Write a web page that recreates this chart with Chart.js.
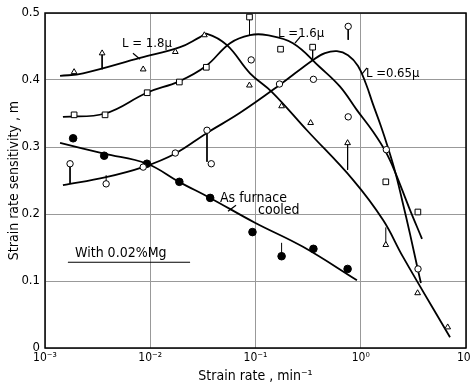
<!DOCTYPE html>
<html>
<head>
<meta charset="utf-8">
<script src="https://cdn.jsdelivr.net/npm/chart.js@4"></script>
<style>
  html, body { margin: 0; padding: 0; background: #fff; }
</style>
</head>
<body>
<canvas id="my-chart" width="471" height="385"></canvas>
<script>
'use strict';

// measured points (strain rate in min^-1, m)
let triX = [0.00189, 0.00349, 0.00857, 0.0173, 0.0327, 0.0875, 0.177, 0.334, 0.75, 1.73, 3.47, 6.7];
let triY = [0.412, 0.440, 0.416, 0.442, 0.467, 0.392, 0.361, 0.336, 0.306, 0.154, 0.082, 0.031];

let sqX = [0.00189, 0.00372, 0.00935, 0.0189, 0.0341, 0.0877, 0.173, 0.349, 1.73, 3.49];
let sqY = [0.348, 0.348, 0.381, 0.397, 0.419, 0.494, 0.446, 0.449, 0.248, 0.203];

let openX = [0.00173, 0.00381, 0.00857, 0.0173, 0.0346, 0.038, 0.091, 0.169, 0.355, 0.76, 0.76, 1.75, 3.5];
let openY = [0.275, 0.245, 0.270, 0.291, 0.325, 0.275, 0.430, 0.394, 0.401, 0.480, 0.345, 0.296, 0.118];

let fillX = [0.00185, 0.00365, 0.0093, 0.0189, 0.0371, 0.0936, 0.177, 0.355, 0.75];
let fillY = [0.313, 0.287, 0.275, 0.248, 0.224, 0.173, 0.137, 0.148, 0.118];

// drawn curves
let curve18X = [0.00139, 0.0023, 0.0080, 0.0192, 0.0297, 0.0346, 0.0536, 0.0887, 0.1435, 0.308, 0.844, 1.63, 2.52, 7.05];
let curve18Y = [0.406, 0.410, 0.433, 0.449, 0.464, 0.469, 0.452, 0.410, 0.382, 0.325, 0.251, 0.191, 0.136, 0.016];

let curve16X = [0.00148, 0.00372, 0.0093, 0.01875, 0.0339, 0.0573, 0.0887, 0.1286, 0.227, 0.410, 0.636, 0.920, 1.306, 1.738, 2.115, 2.87, 3.82];
let curve16Y = [0.345, 0.350, 0.381, 0.398, 0.421, 0.455, 0.467, 0.467, 0.455, 0.419, 0.390, 0.355, 0.323, 0.292, 0.263, 0.210, 0.163];

let curve065X = [0.00148, 0.0038, 0.00853, 0.01718, 0.0346, 0.0713, 0.171, 0.352, 0.457, 0.594, 0.757, 0.942, 1.122, 1.306, 1.556, 1.815, 2.115, 2.47, 2.94, 3.50, 3.73];
let curve065Y = [0.243, 0.255, 0.270, 0.290, 0.321, 0.351, 0.393, 0.430, 0.440, 0.443, 0.437, 0.421, 0.394, 0.364, 0.331, 0.299, 0.264, 0.221, 0.170, 0.116, 0.097];

let cooledX = [0.00139, 0.00364, 0.0093, 0.01875, 0.037, 0.0988, 0.2825, 0.920];
let cooledY = [0.306, 0.290, 0.275, 0.248, 0.224, 0.187, 0.151, 0.101];

// scatter ticks joining a point to its curve
let barX = [0.00349, 0.00173, 0.00381, 0.0346, 0.0877, 0.349, 0.75, 0.76, 1.73, 0.177];
let barFrom = [0.440, 0.275, 0.245, 0.325, 0.494, 0.449, 0.306, 0.480, 0.154, 0.137];
let barTo = [0.416, 0.245, 0.258, 0.278, 0.467, 0.432, 0.266, 0.460, 0.180, 0.157];

let xTickValues = [0.001, 0.01, 0.1, 1, 10];
let xTickLabels = ['10⁻³', '10⁻²', '10⁻¹', '10⁰', '10¹'];
let yTickValues = [0, 0.1, 0.2, 0.3, 0.4, 0.5];
let yTickLabels = ['0', '0.1', '0.2', '0.3', '0.4', '0.5'];

const FONT = '"DejaVu Sans Condensed", "Liberation Sans Narrow", "DejaVu Sans", sans-serif';

function pts(xs, ys) {
  return xs.map((v, i) => ({ x: v, y: ys[i] }));
}

function curve(xs, ys) {
  return {
    data: pts(xs, ys),
    showLine: true,
    borderColor: '#000',
    borderWidth: 1.8,
    pointRadius: 0,
    tension: 0.4,
    order: 2
  };
}

function marks(xs, ys, style, radius, fill) {
  return {
    data: pts(xs, ys),
    showLine: false,
    pointStyle: style,
    pointRadius: radius,
    pointBorderWidth: 1,
    pointBorderColor: '#000',
    pointBackgroundColor: fill,
    order: 0
  };
}

// annotation text in data coordinates
let notes = [
  { text: 'L = 1.8μ', x: 0.0054, y: 0.449, size: 13 },
  { text: 'L =1.6μ', x: 0.164, y: 0.464, size: 13 },
  { text: 'L =0.65μ', x: 1.12, y: 0.404, size: 13 },
  { text: 'As furnace', x: 0.046, y: 0.218, size: 14 },
  { text: 'cooled', x: 0.1057, y: 0.200, size: 14 },
  { text: 'With 0.02%Mg', x: 0.00193, y: 0.136, size: 14 }
];
let leaders = [
  [0.00685, 0.440, 0.0080, 0.431],
  [0.265, 0.464, 0.237, 0.455],
  [1.146, 0.418, 1.03, 0.409],
  [0.0653, 0.213, 0.0548, 0.204],
  [0.00165, 0.128, 0.0239, 0.128]
];

const paperPlugin = {
  id: 'paper',
  afterDraw(chart) {
    const { ctx, chartArea: a } = chart;
    const x = chart.scales.x;
    const y = chart.scales.y;
    ctx.save();
    ctx.strokeStyle = '#000';
    ctx.lineWidth = 1.5;
    ctx.strokeRect(a.left, a.top, a.right - a.left, a.bottom - a.top);
    ctx.fillStyle = '#000';
    ctx.textBaseline = 'alphabetic';
    notes.forEach(n => {
      ctx.font = n.size + 'px ' + FONT;
      ctx.fillText(n.text, x.getPixelForValue(n.x), y.getPixelForValue(n.y));
    });
    ctx.lineWidth = 1.2;
    leaders.forEach(l => {
      ctx.beginPath();
      ctx.moveTo(x.getPixelForValue(l[0]), y.getPixelForValue(l[1]));
      ctx.lineTo(x.getPixelForValue(l[2]), y.getPixelForValue(l[3]));
      ctx.stroke();
    });
    ctx.restore();
  }
};

function renderChart() {
  Chart.defaults.font.family = FONT;
  Chart.defaults.color = '#000';

  let datasets = [
    curve(curve18X, curve18Y),
    curve(curve16X, curve16Y),
    curve(curve065X, curve065Y),
    curve(cooledX, cooledY)
  ];

  for (let i = 0; i < barX.length; i++) {
    datasets.push({
      data: [{ x: barX[i], y: barFrom[i] }, { x: barX[i], y: barTo[i] }],
      showLine: true,
      borderColor: '#000',
      borderWidth: 1,
      pointRadius: 0,
      order: 1
    });
  }

  datasets.push(marks(triX, triY, 'triangle', 3.3, '#fff'));
  datasets.push(marks(sqX, sqY, 'rect', 4, '#fff'));
  datasets.push(marks(openX, openY, 'circle', 3.2, '#fff'));
  datasets.push(marks(fillX, fillY, 'circle', 3.8, '#000'));

  let chartObj = {
    type: 'scatter',
    data: { datasets: datasets },
    options: {
      responsive: false,
      animation: false,
      layout: { padding: { left: 0, top: 13, right: 5, bottom: 0 } },
      plugins: {
        legend: { display: false },
        tooltip: { enabled: false }
      },
      scales: {
        x: {
          type: 'logarithmic',
          min: 0.001,
          max: 10,
          afterBuildTicks: s => { s.ticks = xTickValues.map(v => ({ value: v })); },
          afterFit: s => { s.height = 37; s.paddingLeft = 0; s.paddingRight = 0; },
          ticks: {
            autoSkip: false,
            maxRotation: 0,
            padding: 3,
            font: { size: 12 },
            callback: (v, i) => xTickLabels[i]
          },
          grid: { color: '#999', lineWidth: 1, drawTicks: false },
          border: { display: false },
          title: {
            display: true,
            text: 'Strain rate , min⁻¹',
            font: { size: 14 },
            padding: { top: 0, bottom: 0 }
          }
        },
        y: {
          min: 0,
          max: 0.5,
          afterBuildTicks: s => { s.ticks = yTickValues.map(v => ({ value: v })); },
          afterFit: s => { s.width = 45; s.paddingTop = 0; s.paddingBottom = 0; },
          ticks: {
            padding: 5,
            font: { size: 13 },
            callback: (v, i) => yTickLabels[i]
          },
          grid: { color: '#999', lineWidth: 1, drawTicks: false },
          border: { display: false },
          title: {
            display: true,
            text: 'Strain rate sensitivity , m',
            font: { size: 14 },
            padding: { top: 6, bottom: 0 }
          }
        }
      }
    },
    plugins: [paperPlugin]
  };

  new Chart(document.getElementById('my-chart'), chartObj); //eslint-disable-line
}

renderChart();
</script>
</body>
</html>
